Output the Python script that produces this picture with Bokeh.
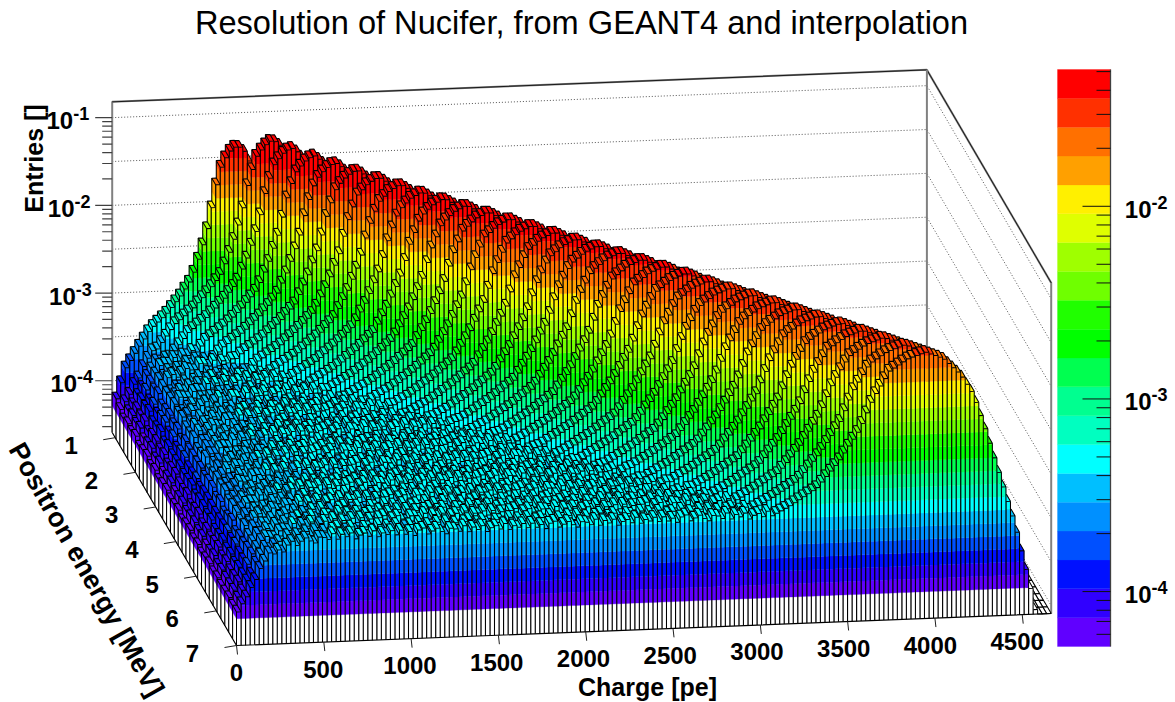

import math
from bokeh.plotting import figure
from bokeh.models import Range1d, ColumnDataSource
from bokeh.core.properties import value
from bokeh.embed import file_html
from bokeh.resources import INLINE

title_text = "Resolution of Nucifer, from GEANT4 and interpolation"
x_title = "Charge [pe]"
y_title = "Positron energy [MeV]"
z_title = "Entries []"
x_ticks = [0, 500, 1000, 1500, 2000, 2500, 3000, 3500, 4000, 4500]
y_ticks = [1, 2, 3, 4, 5, 6, 7]
z_ticks = [-1, -2, -3, -4]
bar_ticks = [-2, -3, -4]

# palette, bottom band to top band
palette = ["#6000FF", "#3000FF", "#0010FF", "#0050FF", "#0090FF", "#00BFFF", "#00FFFF",
           "#00FFC0", "#00FF90", "#00FF50", "#00FF00", "#20FF00", "#6FFF00", "#9FFF00",
           "#DFFF00", "#FFF000", "#FFA000", "#FF7000", "#FF3000", "#FF0000"]

# per-row readings (row 0 = back, 1 MeV side; last row = front, 7 MeV side)
peak_charge = [700, 880, 965, 1070, 1170, 1272, 1375, 1478, 1580, 1684, 1788, 1892, 1996, 2100, 2204, 2308,
               2412, 2515, 2618, 2722, 2826, 2930, 3034, 3138, 3242, 3345, 3450, 3555, 3655, 3755, 3855, 3950]
peak_entries = [0.051, 0.068, 0.065, 0.062, 0.060, 0.058, 0.056, 0.054, 0.052, 0.051, 0.050, 0.049,
                0.048, 0.047, 0.046, 0.045, 0.044, 0.043, 0.042, 0.041, 0.040, 0.038, 0.037, 0.036,
                0.035, 0.034, 0.033, 0.032, 0.031, 0.030, 0.029, 0.028]
peak_sigma = [71, 80, 84, 88, 92, 96, 100, 104, 107, 110, 114, 117, 120, 123, 126, 129,
              132, 135, 138, 141, 144, 146, 149, 151, 154, 156, 159, 161, 163, 165, 168, 170]
row_offset = [0.02, 0.03, -0.01, 0.02, 0.00, 0.03, -0.02, 0.01, 0.03, -0.01, 0.02, -0.02, 0.01, 0.02, -0.01, 0.00,
              0.02, -0.02, 0.01, 0.02, -0.01, 0.01, -0.02, 0.00, 0.02, -0.01, 0.01, -0.01, 0.00, 0.01, -0.01, 0.00]
# continuum below the peak: charge and log10(entries)
cont_charge = [0, 60, 120, 180, 370, 600, 1500, 2700, 4700]
cont_log = [-4.25, -4.05, -3.83, -3.58, -3.43, -3.39, -3.36, -3.34, -3.32]
# peak shape: distance in sigmas and drop in decades, low-charge and high-charge side
left_dist = [0, 0.6, 1.2, 1.75, 2.2, 2.9, 3.65, 4.6, 5.7, 7.0, 9.0, 10.0, 14.0]
left_drop = [0, 0.07, 0.20, 0.50, 0.85, 1.20, 1.50, 1.70, 1.89, 2.06, 2.50, 3.00, 6.00]
right_dist = [0, 0.6, 1.2, 1.6, 2.0, 2.5, 3.0, 3.5, 4.0, 5.0, 9.0]
right_drop = [0, 0.08, 0.28, 0.50, 0.90, 1.45, 2.00, 2.70, 3.50, 5.40, 20.0]
# bin-to-bin fluctuation of the continuum, decades
texture = [0.03, -0.02, 0.01, -0.04, 0.02, 0.04, -0.03, 0.00, 0.03, -0.01, -0.04, 0.02, 0.01, -0.02, 0.04,
           -0.03, 0.02, -0.01, 0.03, -0.04, 0.00, 0.02, -0.02, 0.04, -0.03, 0.01, -0.01, 0.03, -0.02]

N_ROWS = len(peak_charge)
N_COLS = 180
Q_MAX = 4666.0
E_MIN, E_MAX = 0.85, 7.0
Z_FLOOR, Z_TOP = -4.59, -0.82
BAR_LO, BAR_HI = -4.285, -1.29
EDGE_W = 1.05

# projection (reference pixels)
X0, Y0 = 111.7, 432.0
QX, QY = 814.7, -32.0
RX, RY = 124.3, 213.0
ZS = 87.7


def proj(qf, rf, h):
    return X0 + qf * QX + rf * RX, Y0 + qf * QY + rf * RY - ZS * (h - Z_FLOOR)


def lookup(xs, ys, x):
    if x <= xs[0]:
        return ys[0]
    for k in range(1, len(xs)):
        if x <= xs[k]:
            t = (x - xs[k - 1]) / (xs[k] - xs[k - 1])
            return ys[k - 1] + t * (ys[k] - ys[k - 1])
    return ys[-1]


heights = []
for i in range(N_ROWS):
    line = []
    for j in range(N_COLS):
        q = (j + 0.5) * Q_MAX / N_COLS
        d = abs(q - peak_charge[i]) / peak_sigma[i]
        a = math.log10(peak_entries[i])
        if q < peak_charge[i]:
            h = a - lookup(left_dist, left_drop, d)
            c = lookup(cont_charge, cont_log, q)
            c += row_offset[i] + texture[(i * 11 + j) % len(texture)] * min(1.0, q / 300.0)
            h = max(h, c)
        else:
            h = a - lookup(right_dist, right_drop, d)
        line.append(max(h, Z_FLOOR))
    heights.append(line)

band_step = (BAR_HI - BAR_LO) / len(palette)
edges = [BAR_LO + band_step * k for k in range(len(palette) + 1)]


def colour_of(h):
    if h < BAR_LO:
        return "#FFFFFF"
    return palette[min(len(palette) - 1, int((h - BAR_LO) / band_step))]


def face_bands(a, b, lo, hi):
    """split a vertical face between floor points a,b into colour bands"""
    out = []
    cuts = [lo] + [e for e in [Z_FLOOR] + edges[:-1] if lo < e < hi] + [hi]
    for u, v in zip(cuts[:-1], cuts[1:]):
        col = colour_of((u + v) / 2)
        xs = [a[0], b[0], b[0], a[0]]
        ys = [a[1] - ZS * (u - Z_FLOOR), b[1] - ZS * (u - Z_FLOOR),
              b[1] - ZS * (v - Z_FLOOR), a[1] - ZS * (v - Z_FLOOR)]
        out.append((xs, ys, col, col, 0.35))
    return out


sky = [1e9] * 1300


def hidden(xs, ys):
    l, r = int(math.floor(min(xs))), int(math.ceil(max(xs)))
    top = min(ys)
    return all(top >= sky[x] + 2.5 for x in range(l, r + 1))


def update_sky(xs, ys):
    n = len(xs)
    for k in range(n):
        x1, y1, x2, y2 = xs[k], ys[k], xs[(k + 1) % n], ys[(k + 1) % n]
        if x2 < x1:
            x1, y1, x2, y2 = x2, y2, x1, y1
        for x in range(int(math.ceil(x1)), int(math.floor(x2)) + 1):
            t = 0 if x2 == x1 else (x - x1) / (x2 - x1)
            y = y1 + t * (y2 - y1)
            if y < sky[x]:
                sky[x] = y


cells = []
for i in range(N_ROWS - 1, -1, -1):
    for j in range(N_COLS):
        h = heights[i][j]
        h_front = heights[i + 1][j] if i + 1 < N_ROWS else Z_FLOOR
        h_left = heights[i][j - 1] if j > 0 else Z_FLOOR
        fl = proj(j / N_COLS, (i + 1) / N_ROWS, Z_FLOOR)
        fr = proj((j + 1) / N_COLS, (i + 1) / N_ROWS, Z_FLOOR)
        bl = proj(j / N_COLS, i / N_ROWS, Z_FLOOR)
        br = proj((j + 1) / N_COLS, i / N_ROWS, Z_FLOOR)
        dy = ZS * (h - Z_FLOOR)
        items = []
        solid = []
        if h > h_front + 1e-9:
            fb = face_bands(fl, fr, h_front, h)
            items += fb
            solid += fb
            u, v = ZS * (h_front - Z_FLOOR), dy
            items.append(([fr[0], fr[0]], [fr[1] - u, fr[1] - v], "none", "#000000", EDGE_W))
            items.append(([fl[0], fl[0]], [fl[1] - u, fl[1] - v], "none", "#000000", EDGE_W))
        if h > h_left + 1e-9:
            sb = face_bands(bl, fl, h_left, h)
            items += sb
            solid += sb
            u, v = ZS * (h_left - Z_FLOOR), dy
            items.append(([fl[0], fl[0]], [fl[1] - u, fl[1] - v], "none", "#000000", EDGE_W))
            items.append(([bl[0], bl[0]], [bl[1] - u, bl[1] - v], "none", "#000000", EDGE_W))
        top = ([fl[0], fr[0], br[0], bl[0]], [fl[1] - dy, fr[1] - dy, br[1] - dy, bl[1] - dy],
               colour_of(h), "#000000", EDGE_W)
        items.append(top)
        solid.append(top)
        cells.append([it for it in items if not hidden(it[0], it[1])])
        for it in solid:
            update_sky(it[0], it[1])

px, py, pf, pl, pw = [], [], [], [], []
for items in reversed(cells):
    for xs, ys, f, l, w in items:
        px.append(xs)
        py.append(ys)
        pf.append("rgba(0,0,0,0)" if f == "none" else f)
        pl.append(l)
        pw.append(w)

p = figure(width=1175, height=702, x_range=Range1d(0, 1175), y_range=Range1d(702, 0),
           x_axis_location=None, y_axis_location=None, toolbar_location=None,
           output_backend="svg", min_border=0, outline_line_color=None)
p.grid.visible = False
p.background_fill_color = "#FFFFFF"
p.border_fill_color = "#FFFFFF"

# walls
back_tl = proj(0, 0, Z_TOP)
back_tr = proj(1, 0, Z_TOP)
front_tr = proj(1, 1, Z_TOP)
back_bl = proj(0, 0, Z_FLOOR)
back_br = proj(1, 0, Z_FLOOR)
front_br = proj(1, 1, Z_FLOOR)
front_bl = proj(0, 1, Z_FLOOR)

for half in range(0, 8):
    h = -1 - 0.5 * half
    a = proj(0, 0, h)
    b = proj(1, 0, h)
    c = proj(1, 1, h)
    p.line([a[0], b[0], c[0]], [a[1], b[1], c[1]], line_color="#555555", line_dash="1 2", line_width=1)

p.line([back_bl[0], back_tl[0], back_tr[0], front_tr[0], front_br[0]],
       [back_bl[1], back_tl[1], back_tr[1], front_tr[1], front_br[1]], line_color="#808080", line_width=2)
p.line([back_tl[0], back_tr[0], front_tr[0]], [back_tl[1], back_tr[1], front_tr[1]],
       line_color="#000000", line_width=0.8)
p.line([back_tr[0], back_br[0]], [back_tr[1], back_br[1]], line_color="#808080", line_width=2)

# z axis ticks
zx0, zx1, zy0, zy1 = [], [], [], []
for dec in [-1, -2, -3, -4, -5]:
    for m in range(1, 10):
        h = dec + math.log10(m)
        if Z_FLOOR <= h <= Z_TOP:
            a = proj(0, 0, h)
            ln = 17 if m == 1 else 10
            zx0.append(a[0] - ln)
            zx1.append(a[0])
            zy0.append(a[1])
            zy1.append(a[1])
p.segment(zx0, zy0, zx1, zy1, line_color="#404040", line_width=1.2)

# lego surface
src = ColumnDataSource(dict(x=px, y=py, f=pf, l=pl, w=pw))
p.patches("x", "y", source=src, fill_color="f", line_color="l", line_width="w")

# floor edges and axes ticks
p.line([back_bl[0], front_bl[0], front_br[0]], [back_bl[1], front_bl[1], front_br[1]],
       line_color="#000000", line_width=1.2)

tx0, ty0, tx1, ty1 = [], [], [], []
xl_x, xl_y, xl_t = [], [], []
for q in x_ticks:
    a = proj(q / Q_MAX, 1, Z_FLOOR)
    tx0.append(a[0])
    ty0.append(a[1])
    tx1.append(a[0] + 1)
    ty1.append(a[1] + 9)
    xl_x.append(a[0] - 0.0 - 5 * q / 4500)
    xl_y.append(a[1] + 27)
    xl_t.append(str(q))
yl_x, yl_y, yl_t = [], [], []
for e in y_ticks:
    a = proj(0, (e - E_MIN) / (E_MAX - E_MIN), Z_FLOOR)
    tx0.append(a[0])
    ty0.append(a[1])
    tx1.append(a[0] - 12)
    ty1.append(a[1] + 2)
    yl_x.append(a[0] - 44)
    yl_y.append(a[1] + 8)
    yl_t.append(str(e))
p.segment(tx0, ty0, tx1, ty1, line_color="#202020", line_width=1)

BOLD = value("Liberation Sans")
p.text(xl_x, xl_y, text=xl_t, text_font=BOLD, text_font_style="bold", text_font_size="24px",
       text_align="center", text_baseline="middle", text_color="#000000")
p.text(yl_x, yl_y, text=yl_t, text_font=BOLD, text_font_style="bold", text_font_size="24px",
       text_align="center", text_baseline="middle", text_color="#000000")

# z labels
for dec in z_ticks:
    a = proj(0, 0, dec)
    right = a[0] - 39 - (dec + 1) * 1.3
    p.text([right], [a[1] + 3], text=["10"], text_font=BOLD, text_font_style="bold", text_font_size="24px",
           text_align="right", text_baseline="middle", text_color="#000000")
    p.text([right], [a[1] - 4], text=[str(dec)], text_font=BOLD, text_font_style="bold", text_font_size="18px",
           text_align="left", text_baseline="middle", text_color="#000000")

# colour bar
BX0, BX1, BY_TOP, BY_BOT = 1057.0, 1110.0, 69.0, 646.0


def bar_y(h):
    return BY_BOT - (h - BAR_LO) / (BAR_HI - BAR_LO) * (BY_BOT - BY_TOP)


p.quad(left=BX0, right=BX1, top=[bar_y(e) for e in edges[1:]], bottom=[bar_y(e) for e in edges[:-1]],
       fill_color=palette, line_color=palette, line_width=0.3)
p.line([BX1, BX1], [BY_TOP, BY_BOT], line_color="#404040", line_width=1.3)
bx0, by = [], []
for dec in [-2, -3, -4, -5]:
    for m in range(1, 10):
        h = dec + math.log10(m)
        if BAR_LO <= h <= BAR_HI:
            bx0.append(BX1 - (28 if m == 1 else 14))
            by.append(bar_y(h))
p.segment(bx0, by, [BX1] * len(by), by, line_color="#101010", line_width=1)
for dec in bar_ticks:
    y = bar_y(dec)
    p.text([1151], [y + 3], text=["10"], text_font=BOLD, text_font_style="bold", text_font_size="24px",
           text_align="right", text_baseline="middle", text_color="#000000")
    p.text([1151], [y - 4], text=[str(dec)], text_font=BOLD, text_font_style="bold", text_font_size="18px",
           text_align="left", text_baseline="middle", text_color="#000000")

# titles
p.text([581], [22], text=[title_text], text_font=value("Liberation Sans"), text_font_size="32.6px",
       text_align="center", text_baseline="middle", text_color="#000000")
p.text([647], [686], text=[x_title], text_font=BOLD, text_font_style="bold", text_font_size="25px",
       text_align="center", text_baseline="middle", text_color="#000000")
p.text([86], [569], text=[y_title], text_font=BOLD, text_font_style="bold", text_font_size="27px",
       text_align="center", text_baseline="middle", text_color="#000000", angle=-60.5, angle_units="deg")
p.text([33], [158], text=[z_title], text_font=BOLD, text_font_style="bold", text_font_size="25px",
       text_align="center", text_baseline="middle", text_color="#000000", angle=90, angle_units="deg")

open("out.html", "w").write(file_html(p, INLINE))
